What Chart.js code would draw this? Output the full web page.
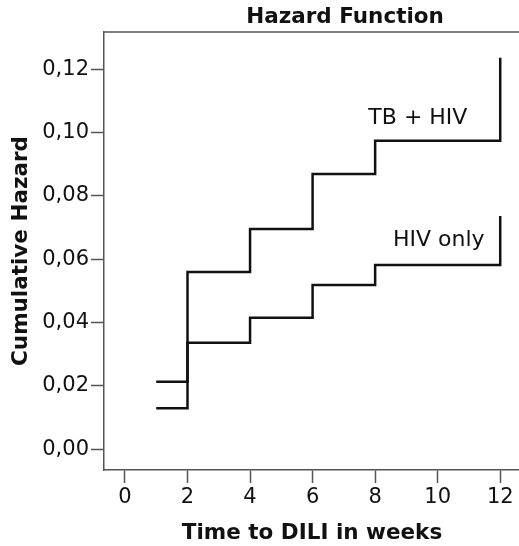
<!DOCTYPE html>
<html>
<head>
<meta charset="utf-8">
<script src="https://cdn.jsdelivr.net/npm/chart.js@4.4.1/dist/chart.umd.min.js"></script>
<style>
  html, body { margin: 0; padding: 0; background: #fff; overflow: hidden; }
  #wrap { width: 519px; height: 546px; position: relative; }
</style>
</head>
<body>
<div id="wrap"><canvas id="hazardChart"></canvas></div>
<script>
// Thời điểm (tuần) của các bậc thang
const weeks = [1, 2, 4, 6, 8, 12, 12];
// Hazard tích lũy theo nhóm
const tbHiv = [0.0213, 0.0559, 0.0695, 0.0869, 0.0974, 0.0974, 0.1236];
const hivOnly = [0.0129, 0.0336, 0.0415, 0.0518, 0.0581, 0.0581, 0.0736];
const groupNames = ["TB + HIV", "HIV only"];
const xTicks = [0, 2, 4, 6, 8, 10, 12];
const yTicks = [0, 0.02, 0.04, 0.06, 0.08, 0.1, 0.12];

const FONT = "'DejaVu Sans', Verdana, sans-serif";

function toPoints(values) {
  return weeks.map((w, i) => ({ x: w, y: values[i] }));
}

// Vẽ tiêu đề, nhãn trục, đường viền trên và nhãn nhóm
const decorPlugin = {
  id: "decor",
  afterDraw(chart) {
    const ctx = chart.ctx;
    const area = chart.chartArea;
    const xs = chart.scales.x;
    const ys = chart.scales.y;
    ctx.save();

    // viền trên
    ctx.strokeStyle = "#555";
    ctx.lineWidth = 1.5;
    ctx.beginPath();
    ctx.moveTo(area.left, area.top);
    ctx.lineTo(area.right, area.top);
    ctx.stroke();

    ctx.fillStyle = "#111";
    ctx.textBaseline = "middle";

    // tiêu đề
    ctx.font = "bold 21.5px " + FONT;
    ctx.textAlign = "center";
    ctx.fillText("Hazard Function", 345, 17);

    // tiêu đề trục x
    ctx.font = "bold 21.5px " + FONT;
    ctx.fillText("Time to DILI in weeks", 312, 533);

    // tiêu đề trục y
    ctx.save();
    ctx.translate(21, 251);
    ctx.rotate(-Math.PI / 2);
    ctx.fillText("Cumulative Hazard", 0, 0);
    ctx.restore();

    // nhãn nhóm
    ctx.font = "22px " + FONT;
    ctx.textAlign = "right";
    ctx.fillText(groupNames[0], xs.getPixelForValue(10.95), ys.getPixelForValue(0.1045));
    ctx.fillText(groupNames[1], xs.getPixelForValue(11.5), ys.getPixelForValue(0.066));

    ctx.restore();
  },
};

const lineStyle = {
  borderColor: "#111",
  borderWidth: 2.5,
  pointRadius: 0,
  fill: false,
  stepped: "before",
};

new Chart(document.getElementById("hazardChart"), {
  type: "line",
  data: {
    datasets: [
      Object.assign({ label: groupNames[0], data: toPoints(tbHiv) }, lineStyle),
      Object.assign({ label: groupNames[1], data: toPoints(hivOnly) }, lineStyle),
    ],
  },
  options: {
    responsive: true,
    maintainAspectRatio: false,
    animation: false,
    layout: { padding: { top: 32, right: 0, left: 0, bottom: 0 } },
    plugins: {
      legend: { display: false },
      tooltip: { enabled: false },
    },
    scales: {
      x: {
        type: "linear",
        min: -0.67,
        max: 12.6,
        afterBuildTicks: (scale) => {
          scale.ticks = xTicks.map((v) => ({ value: v }));
        },
        afterFit: (scale) => {
          scale.height = 76;
        },
        grid: {
          drawOnChartArea: false,
          drawTicks: true,
          tickLength: 13,
          tickWidth: 1.5,
          color: "#555",
        },
        border: { display: true, color: "#555", width: 1.5 },
        ticks: {
          color: "#111",
          padding: 2,
          maxRotation: 0,
          font: { family: FONT, size: 21 },
        },
      },
      y: {
        type: "linear",
        min: -0.0066,
        max: 0.1317,
        afterBuildTicks: (scale) => {
          scale.ticks = yTicks.map((v) => ({ value: v }));
        },
        afterFit: (scale) => {
          scale.width = 104;
        },
        grid: {
          drawOnChartArea: false,
          drawTicks: true,
          tickLength: 13,
          tickWidth: 1.5,
          color: "#555",
        },
        border: { display: true, color: "#555", width: 1.5 },
        ticks: {
          color: "#111",
          padding: 2,
          font: { family: FONT, size: 21 },
          callback: (v) => v.toFixed(2).replace(".", ","),
        },
      },
    },
  },
  plugins: [decorPlugin],
});
</script>
</body>
</html>
